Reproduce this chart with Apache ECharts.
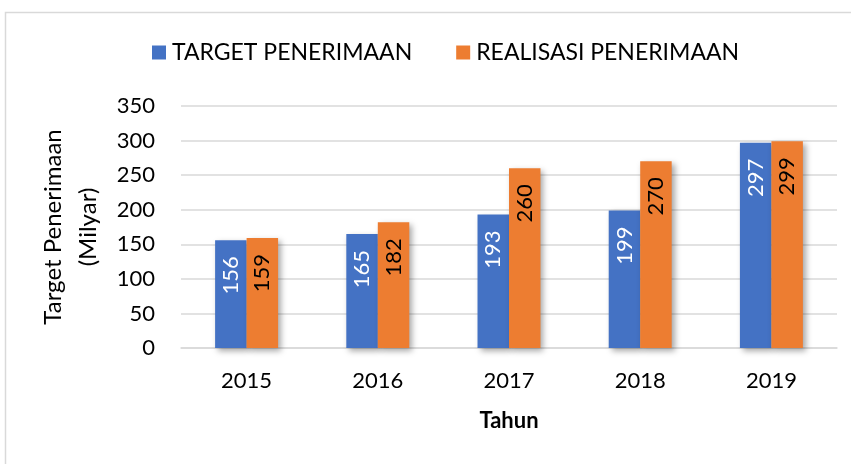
<!DOCTYPE html>
<html>
<head>
<meta charset="utf-8">
<script src="https://cdn.jsdelivr.net/npm/echarts@6/dist/echarts.min.js"></script>
<style>
  html, body { margin: 0; padding: 0; background: #fff; }
  #chart { width: 851px; height: 464px; }
</style>
</head>
<body>
<div id="chart"></div>
<script>
  // data
  const years = ['2015', '2016', '2017', '2018', '2019'];
  const target = [156, 165, 193, 199, 297];
  const realisasi = [159, 182, 260, 270, 299];
  const yTicks = { min: 0, max: 350, interval: 50 };

  const font = 'Lato';
  const barShadow = {
    shadowColor: 'rgba(0,0,0,0.35)',
    shadowBlur: 6,
    shadowOffsetX: 3,
    shadowOffsetY: 3
  };

  const chart = echarts.init(document.getElementById('chart'), null, { renderer: 'canvas' });
  const option = {
    animation: false,
    textStyle: { fontFamily: font },
    graphic: [
      {
        type: 'rect',
        shape: { x: 5.5, y: 12.5, width: 900, height: 500 },
        style: { fill: 'none', stroke: '#d9d9d9', lineWidth: 1.5 },
        silent: true
      }
    ],
    legend: {
      top: 36,
      left: 147,
      itemWidth: 14,
      itemHeight: 14,
      itemGap: 44,
      icon: 'rect',
      textStyle: { fontFamily: font, fontSize: 23, color: '#000', padding: [0, 0, 0, 1] },
      data: ['TARGET PENERIMAAN', 'REALISASI PENERIMAAN']
    },
    grid: {
      left: 181,
      right: 14,
      top: 106,
      bottom: 116
    },
    xAxis: {
      type: 'category',
      data: years,
      name: 'Tahun',
      nameLocation: 'middle',
      nameGap: 62,
      nameTextStyle: { fontFamily: font, fontSize: 22, fontWeight: 'bold', color: '#000' },
      axisLine: { lineStyle: { color: '#d9d9d9', width: 1.5 } },
      axisTick: { show: false },
      axisLabel: { fontFamily: font, fontSize: 22, color: '#000', margin: 22 }
    },
    yAxis: {
      type: 'value',
      min: yTicks.min,
      max: yTicks.max,
      interval: yTicks.interval,
      name: 'Target Penerimaan\n(Milyar)',
      nameLocation: 'middle',
      nameRotate: 90,
      nameGap: 70,
      nameTextStyle: { fontFamily: font, fontSize: 24, color: '#000', lineHeight: 35 },
      axisLine: { show: false },
      axisTick: { show: false },
      axisLabel: { fontFamily: font, fontSize: 22, color: '#000', margin: 26 },
      splitLine: { lineStyle: { color: '#d9d9d9', width: 1.5 } }
    },
    series: [
      {
        name: 'TARGET PENERIMAAN',
        type: 'bar',
        data: target,
        barGap: '0%',
        barCategoryGap: '52%',
        itemStyle: Object.assign({ color: '#4472c4' }, barShadow),
        label: {
          show: true,
          position: 'insideTop',
          distance: 16,
          rotate: 90,
          align: 'right',
          verticalAlign: 'middle',
          fontFamily: font,
          fontSize: 22,
          color: '#fff'
        }
      },
      {
        name: 'REALISASI PENERIMAAN',
        type: 'bar',
        data: realisasi,
        itemStyle: Object.assign({ color: '#ed7d31' }, barShadow),
        label: {
          show: true,
          position: 'insideTop',
          distance: 16,
          rotate: 90,
          align: 'right',
          verticalAlign: 'middle',
          fontFamily: font,
          fontSize: 22,
          color: '#000'
        }
      }
    ]
  };
  chart.setOption(option);
  window.addEventListener('resize', function () {
    chart.resize();
  });
</script>
</body>
</html>
